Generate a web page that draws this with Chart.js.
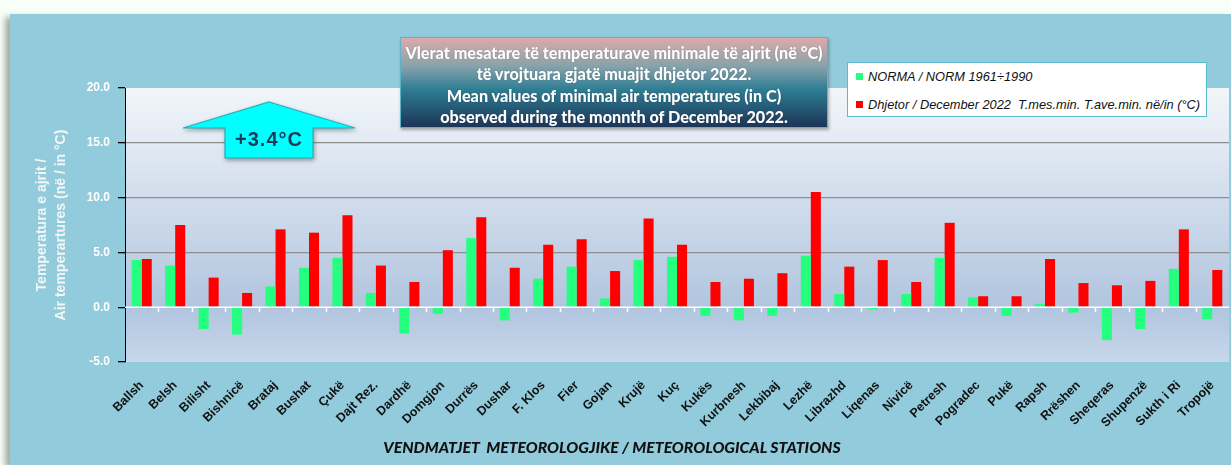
<!DOCTYPE html>
<html>
<head>
<meta charset="utf-8">
<title>Temperaturat minimale - Dhjetor 2022</title>
<script src="https://cdn.jsdelivr.net/npm/chart.js@4.4.1/dist/chart.umd.min.js"></script>
<style>
    body {
        margin: 0;
        width: 1231px;
        height: 465px;
        background: #f8fff8;
        overflow: hidden;
        position: relative;
        font-family: "Liberation Sans", Arial, sans-serif;
    }
    #panel {
        position: absolute;
        left: 10px;
        top: 14px;
        width: 1221px;
        height: 451px;
        background: #92cbdc;
        box-shadow: -5px 3px 6px rgba(60, 70, 60, 0.45);
    }
    #chart {
        position: absolute;
        left: 0;
        top: 0;
    }
    .title-box {
        position: absolute;
        left: 400px;
        top: 37px;
        width: 428px;
        height: 91px;
        box-sizing: border-box;
        border: 1px solid #5fb3c8;
        background: linear-gradient(to bottom, #dcaaac 0%, #86a2aa 32%, #2e7d93 58%, #1c3557 100%);
        box-shadow: 1px 2px 3px rgba(0, 0, 0, 0.3);
        color: #fff;
        font-family: Lato, "Open Sans", sans-serif;
        font-weight: 900;
        font-size: 16.2px;
        line-height: 21.3px;
        text-align: center;
        padding-top: 4px;
        text-shadow: 0 0 1px rgba(0, 0, 0, 0.35);
        white-space: nowrap;
    }
    .legend-box {
        position: absolute;
        left: 847px;
        top: 62px;
        width: 360px;
        height: 55px;
        box-sizing: border-box;
        border: 1px solid #5ab8cf;
        background: #fff;
        font-style: italic;
        font-size: 12.8px;
        color: #111;
    }
    .legend-item {
        position: absolute;
        left: 8px;
        white-space: pre;
    }
    .legend-item span {
        display: inline-block;
        width: 7px;
        height: 7px;
        margin-right: 5px;
        vertical-align: 1px;
    }
    .x-title {
        position: absolute;
        left: 373px;
        top: 437px;
        width: 478px;
        text-align: center;
        font-family: Lato, "Open Sans", sans-serif;
        font-weight: 900;
        font-style: italic;
        font-size: 15.8px;
        color: #111;
        white-space: pre;
    }
    #arrow {
        position: absolute;
        left: 170px;
        top: 95px;
        filter: drop-shadow(1px 2px 2px rgba(0, 0, 0, 0.35));
    }
</style>
</head>
<body>
<div id="panel">
    <canvas id="chart" width="1221" height="451"></canvas>
</div>

<div class="title-box">
    Vlerat mesatare të temperaturave minimale të ajrit (në °C)<br>
    të vrojtuara gjatë muajit dhjetor 2022.<br>
    Mean values of minimal air temperatures (in C)<br>
    observed during the monnth of December 2022.
</div>

<div class="legend-box">
    <div class="legend-item" style="top: 6px;"><span style="background:#24ff80"></span>NORMA / NORM 1961÷1990</div>
    <div class="legend-item" style="top: 34px;"><span style="background:#ff0000"></span>Dhjetor / December 2022  T.mes.min. T.ave.min. në/in (°C)</div>
</div>

<svg id="arrow" width="200" height="72">
    <polygon points="99,7 185,33 143,33 143,63 55,63 55,33 13,33"
             fill="#00ffff" stroke="#1fb2b8" stroke-width="1.2"/>
    <text x="99" y="51" text-anchor="middle" font-family="Liberation Sans, Arial, sans-serif"
          font-weight="bold" font-size="20" letter-spacing="1" fill="#1f3a5a">+3.4°C</text>
</svg>

<div class="x-title">VENDMATJET  METEOROLOGJIKE / METEOROLOGICAL STATIONS</div>

<script>
// Chart data
const stations = ['Ballsh', 'Belsh', 'Bilisht', 'Bishnicë', 'Brataj', 'Bushat', 'Çukë', 'Dajt Rez.',
    'Dardhë', 'Domgjon', 'Durrës', 'Dushar', 'F. Klos', 'Fier', 'Gojan', 'Krujë', 'Kuç', 'Kukës',
    'Kurbnesh', 'Lekbibaj', 'Lezhë', 'Librazhd', 'Liqenas', 'Nivicë', 'Petresh', 'Pogradec', 'Pukë',
    'Rapsh', 'Rrëshen', 'Sheqeras', 'Shupenzë', 'Sukth i Ri', 'Tropojë'];

const normValues = [4.3, 3.8, -2.0, -2.5, 1.9, 3.6, 4.5, 1.3,
    -2.4, -0.6, 6.3, -1.2, 2.6, 3.7, 0.8, 4.3, 4.6, -0.8,
    -1.2, -0.8, 4.7, 1.2, -0.2, 1.2, 4.5, 0.9, -0.8,
    0.3, -0.5, -3.0, -2.0, 3.5, -1.1];

const decValues = [4.4, 7.5, 2.7, 1.3, 7.1, 6.8, 8.4, 3.8,
    2.3, 5.2, 8.2, 3.6, 5.7, 6.2, 3.3, 8.1, 5.7, 2.3,
    2.6, 3.1, 10.5, 3.7, 4.3, 2.3, 7.7, 1.0, 1.0,
    4.4, 2.2, 2.0, 2.4, 7.1, 3.4];

const yTicks = [-5, 0, 5, 10, 15, 20];

const GREEN = '#24ff80';
const RED = '#ff0000';

// Plot area gradient
const plotBackground = {
    id: 'plotBackground',
    beforeDraw(chart) {
        const { ctx, chartArea } = chart;
        const g = ctx.createLinearGradient(0, chartArea.top, 0, chartArea.bottom);
        g.addColorStop(0, '#f2f6fa');
        g.addColorStop(0.8, '#b1c5df');
        g.addColorStop(1, '#c8d7ea');
        ctx.save();
        ctx.fillStyle = g;
        ctx.fillRect(chartArea.left, chartArea.top, chartArea.right - chartArea.left, chartArea.bottom - chartArea.top);
        ctx.restore();
    }
};

// White category axis crossing at zero
const zeroAxis = {
    id: 'zeroAxis',
    afterDatasetsDraw(chart) {
        const { ctx, chartArea, scales } = chart;
        const y0 = scales.y.getPixelForValue(0);
        const step = (chartArea.right - chartArea.left) / stations.length;
        ctx.save();
        ctx.strokeStyle = '#ffffff';
        ctx.lineWidth = 1.5;
        ctx.beginPath();
        ctx.moveTo(chartArea.left, y0);
        ctx.lineTo(chartArea.right, y0);
        for (let i = 1; i < stations.length; i++) {
            const px = Math.round(chartArea.left + i * step) + 0.5;
            ctx.moveTo(px, y0);
            ctx.lineTo(px, y0 + 5);
        }
        ctx.stroke();
        ctx.restore();
    }
};

const ctx = document.getElementById('chart').getContext('2d');
new Chart(ctx, {
    type: 'bar',
    data: {
        labels: stations,
        datasets: [
            {
                label: 'NORMA / NORM 1961÷1990',
                data: normValues,
                backgroundColor: GREEN
            },
            {
                label: 'Dhjetor / December 2022  T.mes.min. T.ave.min. në/in (°C)',
                data: decValues,
                backgroundColor: RED
            }
        ]
    },
    options: {
        responsive: false,
        devicePixelRatio: 1,
        animation: false,
        categoryPercentage: 0.6,
        barPercentage: 1.0,
        layout: {
            padding: { top: 74, right: 2, left: 0, bottom: 0 }
        },
        plugins: {
            legend: { display: false },
            tooltip: { enabled: false }
        },
        scales: {
            x: {
                grid: { display: false },
                border: { display: false },
                ticks: {
                    autoSkip: false,
                    minRotation: 45,
                    maxRotation: 45,
                    padding: 8,
                    color: '#111',
                    font: { family: 'Liberation Sans, Arial, sans-serif', size: 12.5, weight: 'bold' }
                },
                afterFit(scale) {
                    scale.height = 103;
                }
            },
            y: {
                min: -5,
                max: 20,
                afterBuildTicks(scale) {
                    scale.ticks = yTicks.map(v => ({ value: v }));
                },
                grid: {
                    color: c => {
                        const v = c.tick ? c.tick.value : null;
                        return (v === 5 || v === 10 || v === 15) ? '#8e8e8e' : 'rgba(0,0,0,0)';
                    },
                    lineWidth: 1.3,
                    tickColor: '#000',
                    tickLength: 7
                },
                border: { display: true, color: '#000', width: 1 },
                ticks: {
                    padding: 8,
                    color: '#ffffff',
                    font: { family: 'Liberation Sans, Arial, sans-serif', size: 12, weight: 'bold' },
                    callback: v => v.toFixed(1)
                },
                title: {
                    display: true,
                    text: ['Temperatura e ajrit /', 'Air temperartures (në / in °C)'],
                    color: '#f4f6f6',
                    font: { family: 'Liberation Sans, Arial, sans-serif', size: 14, weight: 'bold', lineHeight: 1.4 },
                    padding: { top: 22, bottom: 0 }
                },
                afterFit(scale) {
                    scale.width = 115;
                }
            }
        }
    },
    plugins: [plotBackground, zeroAxis]
});
</script>
</body>
</html>
